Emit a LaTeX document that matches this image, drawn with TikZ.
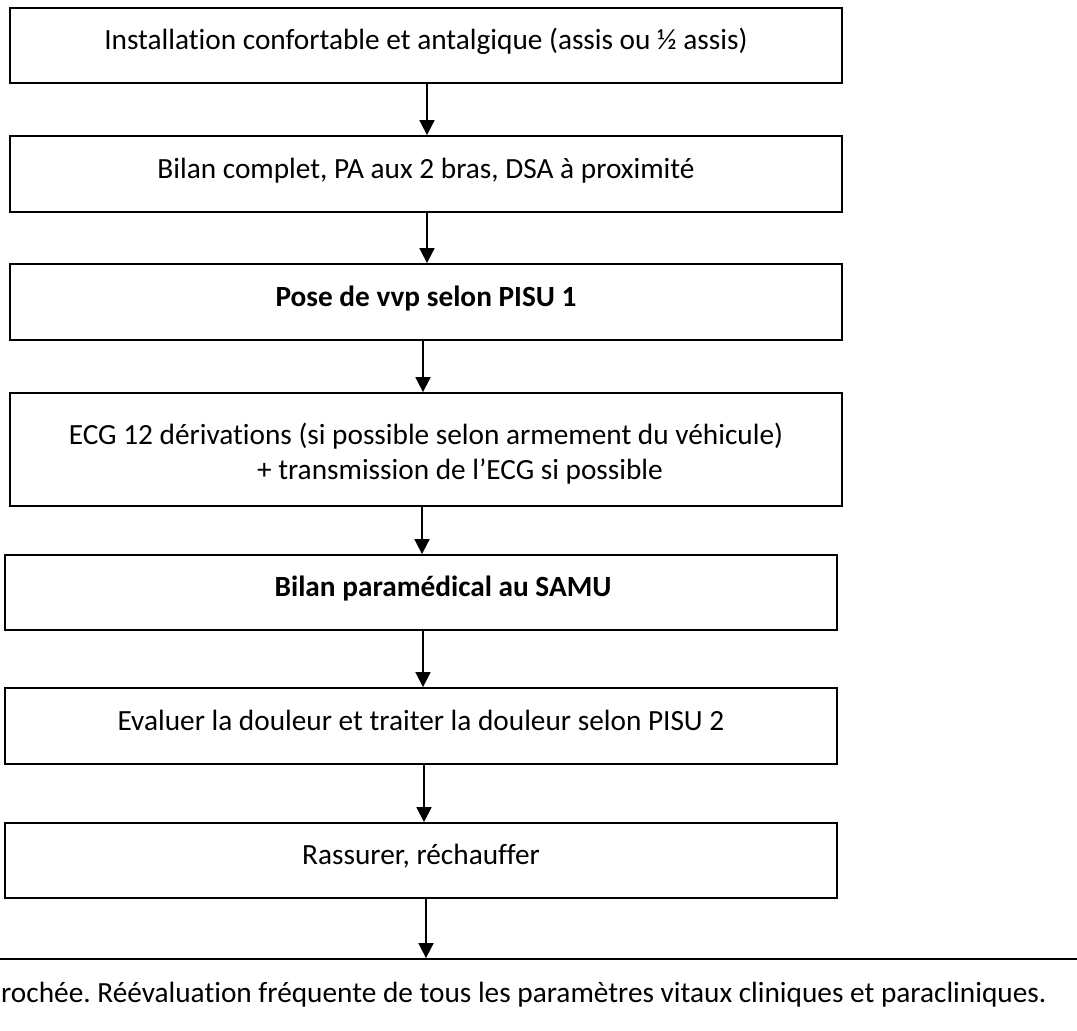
\documentclass[tikz,border=0pt]{standalone}
\usepackage{fontspec}
\setmainfont{Carlito}[Ligatures=NoCommon]
\usetikzlibrary{arrows.meta}
\frenchspacing
\begin{document}
\begin{tikzpicture}[x=1pt,y=-1pt,
  txt/.style={font=\fontsize{29.3}{35}\selectfont},
  boxbase/.style={draw, line width=1.8pt, minimum width=832pt, inner sep=0pt, txt},
  box/.style={boxbase, text height=24pt, text depth=16pt},
  bold/.style={font=\fontsize{29.3}{35}\selectfont\bfseries},
  arr/.style={line width=1.8pt, -{Triangle[length=15pt,width=15pt]}}]
\useasboundingbox (0,0) rectangle (1077,1031);
\clip (0,0) rectangle (1077,1031);
\node[box, minimum height=75pt] (b1) at (426,45.5) {Installation confortable et antalgique (assis ou ½ assis)};
\node[box, minimum height=76pt] (b2) at (426,174) {Bilan complet, PA aux 2 bras, DSA à proximité};
\node[box, minimum height=76pt, bold] (b3) at (426,302) {Pose de vvp selon PISU 1};
\node[boxbase, minimum height=113pt, align=center] (b4) at (426,449.5) {\rule{0pt}{30pt}ECG 12 dérivations (si possible selon armement du véhicule)\\\hspace*{68pt}+ transmission de l’ECG si possible};
\node[box, minimum height=75pt, bold] (b5) at (421,592.5) {\hspace*{44pt}Bilan paramédical au SAMU};
\node[box, minimum height=76pt] (b6) at (421,726) {Evaluer la douleur et traiter la douleur selon PISU 2};
\node[box, minimum height=75pt] (b7) at (421,860.5) {Rassurer, réchauffer};
\node[draw, line width=1.8pt, minimum width=1500pt, minimum height=160pt] (b8) at (500,1039) {};
\node[anchor=base west, inner sep=0pt, txt] (t8) at (1,1002) {rochée. Réévaluation fréquente de tous les paramètres vitaux cliniques et paracliniques.};
\draw[arr] ([xshift=1pt]b1.south) -- ([xshift=1pt]b2.north);
\draw[arr] ([xshift=1pt]b2.south) -- ([xshift=1pt]b3.north);
\draw[arr] ([xshift=-3pt]b3.south) -- ([xshift=-3pt]b4.north);
\draw[arr] ([xshift=-4pt]b4.south) -- ([xshift=1pt]b5.north);
\draw[arr] ([xshift=2pt]b5.south) -- ([xshift=2pt]b6.north);
\draw[arr] ([xshift=3pt]b6.south) -- ([xshift=3pt]b7.north);
\draw[arr] ([xshift=5pt]b7.south) -- ([xshift=5pt]b7.south |- b8.north);
\end{tikzpicture}
\end{document}
